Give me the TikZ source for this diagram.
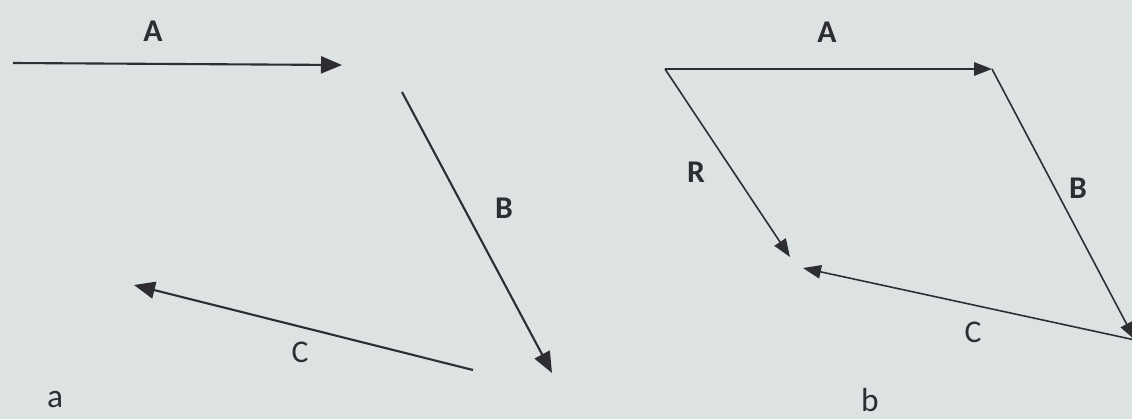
\documentclass[tikz,border=0pt]{standalone}
\usepackage{fontspec}
\setmainfont{Carlito}
\usetikzlibrary{arrows.meta}
\definecolor{paper}{RGB}{221,227,227}
\definecolor{ink}{RGB}{45,45,50}

\begin{document}
\begin{tikzpicture}[x=0.2mm, y=-0.2mm, ink,
	every node/.style={font=\fontsize{18}{21}\selectfont, text=ink, inner sep=0pt},
	lbl/.style={font=\fontsize{18}{21}\selectfont\bfseries},
	vec/.style={draw=ink, line width=1.2pt, -{Triangle[length=4.2mm, width=3.4mm]}},
	vecb/.style={draw=ink, line width=0.9pt, -{Triangle[length=3.6mm, width=2.7mm]}}]

	% background and frame
	\fill[paper] (0,0) rectangle (1132,419);
	\useasboundingbox (0,0) rectangle (1132,419);
	\clip (0,0) rectangle (1132,419);

	% ============ PANEL (a): THREE SEPARATE VECTORS ============

	\coordinate (a_A1) at (13,63);
	\coordinate (a_A2) at (342,65);
	\coordinate (a_B1) at (402,92);
	\coordinate (a_B2) at (552,373);
	\coordinate (a_C1) at (473,370);
	\coordinate (a_C2) at (134,285);

	\draw[vec] (a_A1) -- (a_A2);
	\draw[vec] (a_B1) -- (a_B2);
	\draw[vec] (a_C1) -- (a_C2);

	% Labels
	\node[lbl] (a_lA) at (153,31) {A};
	\node[lbl] (a_lB) at (504,208) {B};
	\node (a_lC) at (300,352) {C};
	\node[font=\fontsize{19}{22}\selectfont] (a_cap) at (55,400) {a};

	% ============ PANEL (b): HEAD TO TAIL, RESULTANT R ============

	\coordinate (b_O) at (665,69);
	\coordinate (b_P) at (992,69);
	\coordinate (b_Q) at (1135,340);
	\coordinate (b_S) at (803,268);
	\coordinate (b_R) at (790,257);

	\draw[vecb] (b_O) -- (b_P);
	\draw[vecb] (b_P) -- (b_Q);
	\draw[vecb] (b_Q) -- (b_S);
	\draw[vecb] (b_O) -- (b_R);

	% Labels
	\node[lbl] (b_lA) at (827,32) {A};
	\node[lbl] (b_lB) at (1078,188) {B};
	\node[lbl] (b_lR) at (696,172) {R};
	\node (b_lC) at (973,332) {C};
	\node[font=\fontsize{19}{22}\selectfont] (b_cap) at (870,400) {b};

\end{tikzpicture}
\end{document}
